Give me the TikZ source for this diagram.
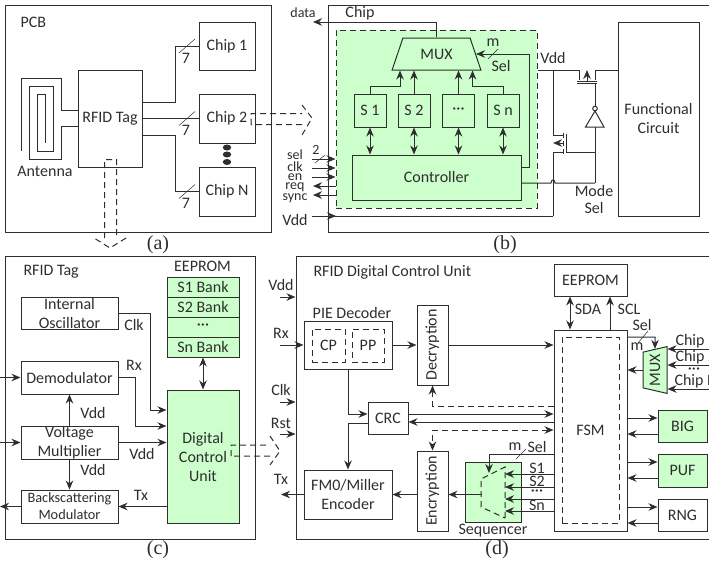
\documentclass[tikz,border=0pt]{standalone}
\usepackage{fontspec}
\setmainfont{Carlito}
\newfontfamily\capfont{Liberation Serif}
\usepackage{xcolor}
\usetikzlibrary{arrows.meta,shapes.geometric}
\definecolor{blockgreen}{HTML}{CCFFCC}
\definecolor{wire}{HTML}{2E2E2E}
\newcommand{\midots}{\textperiodcentered\textperiodcentered\textperiodcentered}
\tikzset{
  sz/.style 2 args={minimum width=#1,minimum height=#2},
  box/.style={draw=wire,line width=1pt,inner sep=0pt,align=center},
  gbox/.style={box,fill=blockgreen},
  dbox/.style={draw=wire,line width=1pt,dash pattern=on 6pt off 4pt,inner sep=0pt},
  lbl/.style={inner sep=0pt,align=center},
  tiny/.style={lbl,font=\fontsize{14}{14}\selectfont},
  subcap/.style={inner sep=0pt,font=\capfont\fontsize{20}{22}\selectfont},
  muxshape/.style={box,fill=blockgreen,trapezium,trapezium stretches=true},
  hollow/.style={draw=wire,line width=1pt,dash pattern=on 6pt off 4pt},
}
\begin{document}
\begin{tikzpicture}[x=1pt,y=-1pt,>={Stealth[length=9pt,width=7.5pt]},font=\fontsize{16}{19}\selectfont,
  color=wire,line width=1pt]
  \clip (0,0) rectangle (709,565);
  % (a) board
  \node[box,sz={266.5}{227}] (pcbframe) at (138.3,118.5) {};
  \node[lbl,anchor=west] (pcblabel) at (20,22) {PCB};
  \node[box,sz={64}{97}] (tag) at (110,118.5) {RFID Tag};
  \node[box,sz={56}{48}] (chipa) at (227,46) {Chip 1};
  \node[box,sz={56}{49}] (chipb) at (227,118.5) {Chip 2};
  \node[box,sz={56}{49}] (chipn) at (227,191.5) {Chip N};
  \node[lbl] (antlabel) at (45,171) {Antenna};
  \draw (21.5,151) -- (21.5,78.5) -- (61.5,78.5) -- (61.5,110) -- (tag.west |- 0,110);
  \draw (tag.west |- 0,126.5) -- (61.5,126.5) -- (61.5,159) -- (29.5,159) -- (29.5,86.5) -- (53.5,86.5)
    -- (53.5,151.5) -- (37.5,151.5) -- (37.5,94.5) -- (45,94.5) -- (45,143);
  \draw (tag.east |- 0,102.5) -- (175,102.5) |- (chipa.west);
  \draw (tag.east |- 0,118.5) -- (chipb.west);
  \draw (tag.east |- 0,135) -- (175,135) |- (chipn.west);
  \foreach \i/\yy in {a/46,b/118.5,n/191.5}{
    \draw[line width=0.5pt] (179,\yy+7) -- (195,\yy-7);
    \node[lbl] (seven\i) at (186,\yy+12) {7};
  }
  \foreach \yy in {147.5,154.5,162}{\fill[wire] (227,\yy) ellipse (4.2pt and 3pt);}
  \draw[hollow] (251,124.5) -- (251,113.5) -- (302,113.5) (302,105) -- (312,118) -- (302,135) (302,124.5) -- (251,124.5);
  \draw[hollow] (104.5,238) -- (104.5,159.5) -- (116.5,159.5) -- (116.5,238) (126,238) -- (110,248) -- (94,238);
  \node[subcap] (capa) at (158,245) {(a)};
  % (b) chip
  \node[box,sz={390}{227}] (chipframe) at (523,118.5) {};
  \node[lbl] (chiplabel) at (360,13.5) {Chip};
  \node[gbox,dash pattern=on 6pt off 4pt,sz={201}{178}] (secure) at (436.5,119) {};
  \node[muxshape,sz={89}{32},trapezium left angle=63.4,trapezium right angle=63.4] (mux) at (436.5,54) {MUX};
  \foreach \i/\xx/\txt in {a/370/S 1,b/414/S 2,c/458.5/\midots,n/503/S n}{
    \node[gbox,sz={32}{33}] (s\i) at (\xx,110.5) {\txt};
  }
  \node[gbox,sz={169}{45}] (ctrl) at (436.5,177.5) {Controller};
  \node[box,sz={81}{194}] (func) at (658.5,119) {Functional\\Circuit};
  \coordinate (dataend) at (313,22);
  \draw[->] (mux.north) |- (dataend);
  \node[tiny] (datalabel) at (303,13) {data};
  \draw[->] (sa.north) |- (400,86) -- (mux.south -| 400,0);
  \draw[->] (sb.north) -- (mux.south -| sb.north);
  \draw[->] (sc.north) -- (mux.south -| sc.north);
  \draw[->] (sn.north) |- (472.5,86) -- (mux.south -| 472.5,0);
  \foreach \i in {a,b,c,n}{\draw[<->] (s\i.south) -- (ctrl.north -| s\i.south);}
  \draw[->] (ctrl.east |- 0,167) -- (529.5,167) |- (mux.east);
  \draw[line width=0.5pt] (488,59) -- (498,49);
  \node[lbl] (mlabel) at (493,43) {m};
  \node[lbl] (sellabel) at (501,66) {Sel};
  % pins
  \foreach \yy in {159,168,177}{
    \draw[->] (312,\yy) -- (secure.west |- 0,\yy);
  }
  \foreach \yy in {186,195}{
    \draw[->] (secure.west |- 0,\yy) -- (313,\yy);
  }
  \foreach \nm/\yy/\txt in {sel/155/sel,clk/166.5/clk,en/177/en,req/187/req,sync/198/sync}{
    \node[tiny] (\nm label) at (295,\yy) {\txt};
  }
  \node[tiny] (twolabel) at (316,150) {2};
  \draw[line width=0.5pt] (315,163) -- (325,155);
  \node[lbl] (vddleft) at (295,220) {Vdd};
  \draw (553,216) -- (312,216);
  \draw[->] (312,216) -- (336,216);
  \node[lbl] (vddtop) at (553,58) {Vdd};
  % power switches
  \draw (secure.east |- 0,70) -- (579,70) -- (579,80);
  \draw (595,80) -- (595,70) -- (func.west |- 0,70);
  \draw (577,81) -- (597,81) (577,83) -- (597,83);
  \draw[->] (587,82) -- (587,70);
  \draw (595,83) -- (595,106);
  \draw (595,108.5) circle (2.3pt);
  \draw (595,111) -- (585.5,127) -- (604,127) -- cycle;
  \draw (595,127) -- (595,183);
  \draw (553,70) -- (553,135) -- (563,135);
  \draw (553,216) -- (553,152) -- (563,152);
  \draw[->] (563,143) -- (553,143);
  \draw (563,133) -- (563,138) (563,141) -- (563,146) (563,149) -- (563,154);
  \draw (566,134) -- (566,152) -- (595,152);
  \draw (ctrl.east |- 0,183) -- (551,183) .. controls (551,179) and (555,179) .. (555,183) -- (595,183);
  \node[lbl] (modelabel) at (594,191) {Mode};
  \node[lbl] (modesel) at (594,208) {Sel};
  \node[subcap] (capb) at (505,245) {(b)};
  % (c) tag
  \node[box,sz={250.5}{283}] (tagframe) at (130.3,397.5) {};
  \node[lbl,anchor=west] (taglabel) at (23,272) {RFID Tag};
  \node[lbl] (eeplabel) at (202.5,266) {EEPROM};
  \foreach \i/\yy/\txt in {a/287/S1 Bank,b/307/S2 Bank,c/327/\midots,n/347/Sn Bank}{
    \node[gbox,sz={72}{20}] (bank\i) at (203,\yy) {\txt};
  }
  \node[box,sz={97}{32}] (osc) at (69.5,313) {Internal\\Oscillator};
  \node[box,sz={97}{33}] (demod) at (69.5,377.5) {Demodulator};
  \node[box,sz={97}{33}] (vmul) at (69.5,442.5) {Voltage\\Multiplier};
  \node[box,sz={97}{33},font=\fontsize{14.3}{17}\selectfont] (back) at (69.5,506.5) {Backscattering\\Modulator};
  \node[gbox,sz={72}{133}] (dcu) at (203,456.5) {Digital\\Control\\Unit};
  \coordinate (rfin) at (0,377.5);
  \coordinate (pwrin) at (0,442.5);
  \coordinate (rfout) at (0,506.5);
  \draw[->] (rfin) -- (demod);
  \draw[->] (pwrin) -- (vmul);
  \draw[->] (back) -- (rfout);
  \draw[->] (osc.east) -- (150,313) |- (dcu.west |- 0,410);
  \draw[->] (demod.east) -- (135,377.5) |- (dcu.west |- 0,426);
  \draw[->] (vmul.east) -- (dcu.west |- vmul.east);
  \draw[->] (vmul.north) -- (demod.south);
  \draw[->] (vmul.south) -- (back.north);
  \draw[->] (dcu.west |- back.east) -- (back.east);
  \draw[<->] (bankn.south) -- (dcu.north);
  \draw[hollow] (231,456) -- (231,445) -- (270,445) (270,436) -- (280,451) -- (270,465) (270,456) -- (231,456);
  \node[lbl] (clkc) at (134,325) {Clk};
  \node[lbl] (rxc) at (134,365) {Rx};
  \node[lbl] (vddc) at (142,454) {Vdd};
  \node[lbl] (vddu) at (93,413) {Vdd};
  \node[lbl] (vddd) at (93,470) {Vdd};
  \node[lbl] (txc) at (141,495) {Tx};
  \node[subcap] (capc) at (158,550) {(c)};
  % (d) control unit
  \node[box,sz={420}{283}] (dcuframe) at (506,397.5) {};
  \node[lbl,anchor=west] (dcutitle) at (313,272) {RFID Digital Control Unit};
  \foreach \nm/\xx/\yy/\txt in {vdd/281/285/Vdd,rx/281/333/Rx,clk/281/390/Clk,rst/281/423/Rst,tx/281/479/Tx}{
    \node[lbl] (\nm d) at (\xx,\yy) {\txt};
  }
  \node[box,sz={88}{48}] (pie) at (348,345) {};
  \node[lbl] (pielabel) at (352,313) {PIE Decoder};
  \node[dbox,sz={33}{33}] (cp) at (328.5,345.5) {CP};
  \node[dbox,sz={32}{33}] (pp) at (368,345.5) {PP};
  \node[box,sz={80}{31},rotate=90] (dec) at (432.5,345) {Decryption};
  \node[box,sz={40}{32}] (crc) at (388,418) {CRC};
  \node[box,sz={88}{49}] (fm) at (348,494.5) {FM0/Miller\\Encoder};
  \node[box,sz={80}{31},rotate=90] (enc) at (432.5,491) {Encryption};
  \node[gbox,sz={56}{60}] (seq) at (493,492) {};
  \node[lbl] (seqlabel) at (493,531) {Sequencer};
  \node[box,sz={73}{201}] (fsm) at (590.5,430.5) {FSM};
  \node[dbox,sz={57}{186}] (fsmin) at (590.5,430) {};
  \node[box,sz={73}{32}] (eep) at (590.5,280) {EEPROM};
  \node[muxshape,sz={47}{24},trapezium left angle=64.4,trapezium right angle=64.4,rotate=90] (muxb) at (655,370) {MUX};
  \node[gbox,sz={49}{32}] (big) at (682.5,426) {BIG};
  \node[gbox,sz={49}{33}] (puf) at (682.5,470.5) {PUF};
  \node[box,sz={49}{32}] (rng) at (682.5,515) {RNG};
  % pins of the unit
  \draw[->] (280,297) -- (dcuframe.west |- 0,297);
  \draw[->] (280,345) -- (pie.west);
  \draw[->] (280,402) -- (dcuframe.west |- 0,402);
  \draw[->] (280,434) -- (dcuframe.west |- 0,434);
  \draw[->] (fm.west) -- (281,494.5);
  \draw[->] (pie.east) -- (dec.north);
  \draw[->] (dec.south) -- (fsm.west |- dec.south);
  \draw[->] (pie.south) |- (crc.west |- 0,414);
  \draw[->] (crc.west |- 0,423) -- (348,423) -- (fm.north);
  \draw[->] (crc.east |- 0,414) -- (fsm.west |- 0,414);
  \draw[->] (fsm.west |- 0,422) -- (crc.east |- 0,422);
  \draw[->,hollow] (fsm.west |- 0,406) -- (432.5,406) -- (dec.west);
  \draw[<->,hollow] (fsm.west |- 0,430) -- (432.5,430) -- (enc.east);
  \draw[->] (enc.north |- fm.east) -- (fm.east);
  \draw[->] (482,494.5) -- (enc.south |- fm.east);
  \draw[hollow] (505,518) -- (505,467) -- (481,479) -- (481,507) -- cycle;
  \draw[->] (fsm.west |- 0,454) -- (489,454) -- (489,473);
  \draw[line width=0.5pt] (516,459) -- (526,449);
  \node[lbl] (mseq) at (515,447) {m};
  \node[lbl] (selseq) at (537,447) {Sel};
  \foreach \yy in {474,487,499,511}{\draw[->] (fsm.west |- 0,\yy) -- (505,\yy);}
  \node[lbl] (sone) at (537,468) {S1};
  \node[lbl] (stwo) at (537,481) {S2};
  \node[lbl] (sdots) at (537,493) {\midots};
  \node[lbl] (slast) at (537,505) {Sn};
  \draw[<->] (eep.south -| 570,0) -- (fsm.north -| 570,0);
  \draw[->] (fsm.north -| 610,0) -- (eep.south -| 610,0);
  \node[lbl] (sdalabel) at (588,309) {SDA};
  \node[lbl] (scllabel) at (629,309) {SCL};
  \draw[->] (fsm.east |- 0,337) -- (655,337) -- (muxb.east);
  \draw[line width=0.5pt] (638,343) -- (648,331);
  \node[lbl] (selmux) at (642,325) {Sel};
  \node[lbl] (mmux) at (637,347) {m};
  \draw[->] (muxb.north) -- (fsm.east |- muxb.north);
  \foreach \yy in {349,365,389}{\draw[->] (709,\yy) -- (muxb.south |- 0,\yy);}
  \node[lbl,anchor=west] (chipone) at (675,341) {Chip 1};
  \node[lbl,anchor=west] (chiptwo) at (675,357) {Chip 2};
  \node[lbl] (chipdots) at (694,371) {\midots};
  \node[lbl,anchor=west] (chiplast) at (674,381) {Chip N};
  \foreach \nm/\ya/\yb in {big/418/434,puf/462/478,rng/507/523}{
    \draw[->] (fsm.east |- 0,\ya) -- (\nm.west |- 0,\ya);
    \draw[->] (\nm.west |- 0,\yb) -- (fsm.east |- 0,\yb);
  }
  \node[subcap] (capd) at (497,550) {(d)};
\end{tikzpicture}
\end{document}
